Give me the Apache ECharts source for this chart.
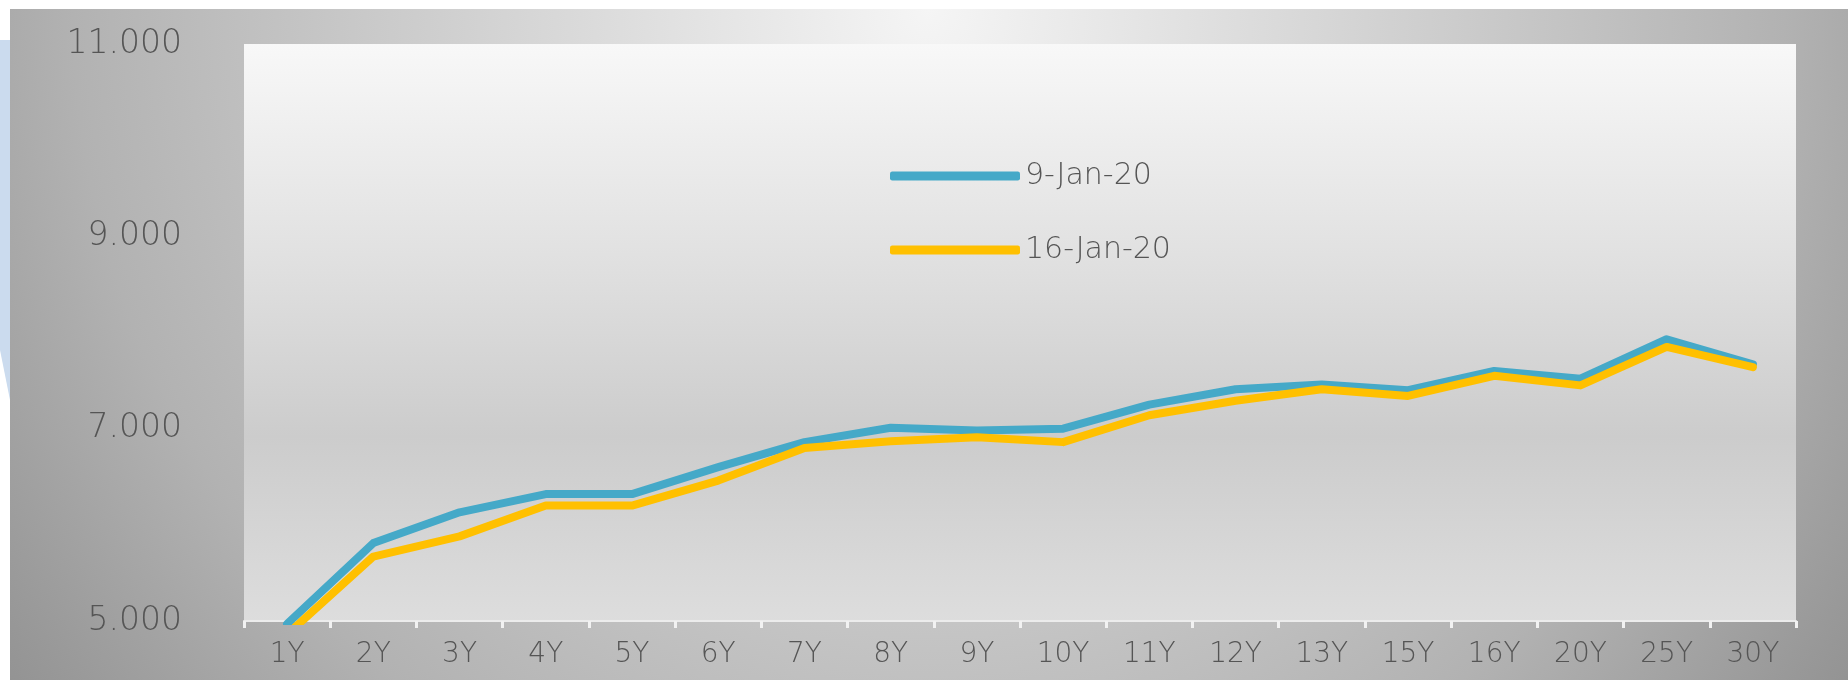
<!DOCTYPE html>
<html>
<head>
<meta charset="utf-8">
<script src="https://cdn.jsdelivr.net/npm/echarts@6/dist/echarts.min.js"></script>
<style>
html,body{margin:0;padding:0;background:#ffffff;}
#chart{width:1848px;height:680px;}
</style>
</head>
<body>
<div id="chart"></div>
<script>
const categories = ['1Y','2Y','3Y','4Y','5Y','6Y','7Y','8Y','9Y','10Y','11Y','12Y','13Y','15Y','16Y','20Y','25Y','30Y'];
const seriesNames = ['9-Jan-20','16-Jan-20'];
const jan9  = [4.97,5.81,6.13,6.32,6.32,6.60,6.86,7.01,6.98,7.00,7.25,7.41,7.46,7.40,7.60,7.52,7.93,7.67];
const jan16 = [4.86,5.67,5.88,6.20,6.20,6.46,6.80,6.87,6.91,6.86,7.14,7.29,7.41,7.34,7.55,7.45,7.85,7.64];
const yMin = 5, yMax = 11, yStep = 2;

const chart = echarts.init(document.getElementById('chart'), null, {renderer:'canvas'});
const font = 'DejaVu Sans';
chart.setOption({
  backgroundColor: '#ffffff',
  animation: false,
  graphic: [
    {type:'rect', z:-10, silent:true, shape:{x:10,y:9,width:1838,height:671},
     style:{fill:new echarts.graphic.RadialGradient(0.5,0,1.7,[
       {offset:0,color:'#f5f5f5'},{offset:0.35,color:'#d6d6d6'},
       {offset:0.75,color:'#b2b2b2'},{offset:1,color:'#939393'}])}},
    {type:'polygon', z:-10, silent:true, shape:{points:[[0,40],[10,40],[10,400],[0,350]]},
     style:{fill:'#cbdbee'}}
  ],
  grid: {
    left: 244, right: 52, top: 44, bottom: 59,
    show: true, borderWidth: 0,
    backgroundColor: new echarts.graphic.LinearGradient(0,0,0,1,[
      {offset:0,color:'#f8f8f8'},{offset:0.35,color:'#e2e2e2'},
      {offset:0.68,color:'#cccccc'},{offset:1,color:'#dddddd'}])
  },
  legend: {
    orient: 'vertical', left: 885, top: 156, itemGap: 44,
    itemWidth: 130, itemHeight: 9, icon: 'roundRect',
    textStyle: {fontFamily: font, fontSize: 30, lineHeight: 30, color: '#555555', fontWeight: 300},
    data: seriesNames
  },
  xAxis: {
    type: 'category', data: categories, boundaryGap: true,
    axisLine: {show: true, lineStyle: {color: '#ececec', width: 2}},
    axisTick: {show: true, length: 7, lineStyle: {color: '#f2f2f2', width: 3}},
    axisLabel: {fontFamily: font, fontSize: 28, color: '#555555', margin: 20, interval: 0, fontWeight: 300},
    splitLine: {show: false}
  },
  yAxis: {
    type: 'value', min: yMin, max: yMax, interval: yStep,
    axisLine: {show: false}, axisTick: {show: false}, splitLine: {show: false},
    axisLabel: {fontFamily: font, fontSize: 33, color: '#555555', margin: 62, fontWeight: 300,
      formatter: v => v.toFixed(3)}
  },
  series: [
    {name: seriesNames[0], type: 'line', data: jan9, symbol: 'none', clip: true,
     color: '#45a9c8', lineStyle: {width: 8, color: '#45a9c8', join: 'round', cap: 'round'}},
    {name: seriesNames[1], type: 'line', data: jan16, symbol: 'none', clip: true,
     color: '#ffc000', lineStyle: {width: 8, color: '#ffc000', join: 'round', cap: 'round'}}
  ]
});
</script>
</body>
</html>
